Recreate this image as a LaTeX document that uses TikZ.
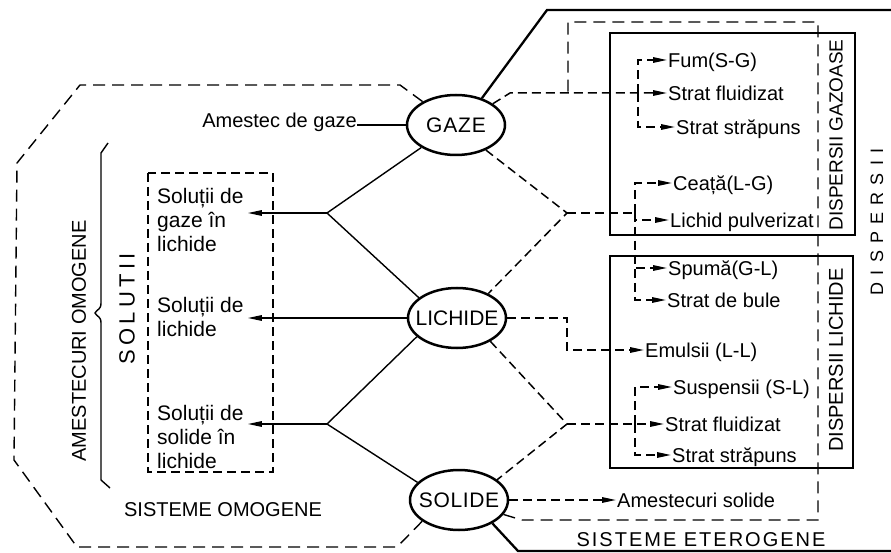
\documentclass[tikz,border=0pt]{standalone}
\usepackage{fontspec}
\setmainfont{Liberation Sans}
\usetikzlibrary{arrows.meta,shapes.geometric}

\begin{document}
\begin{tikzpicture}[x=1pt,y=-1pt,
  txt/.style={font=\fontsize{20}{24}\selectfont, inner sep=0pt},
  item/.style={txt, anchor=west, text height=14.4pt, text depth=0pt},
  soltxt/.style={font=\fontsize{21}{24}\selectfont, inner sep=0pt, anchor=north west, align=left},
  phase/.style={ellipse, draw, line width=2.5pt, inner sep=0pt,
    minimum width=98pt, minimum height=60pt, font=\fontsize{21}{24}\selectfont},
  solidln/.style={line width=1.4pt},
  heavy/.style={line width=2.3pt, line join=miter},
  dline/.style={line width=1.5pt, dash pattern=on 9pt off 5pt},
  region/.style={line width=1.4pt, dash pattern=on 12pt off 7pt},
  arr/.style={-{Triangle[length=14pt,width=5.5pt]}, shorten >=1pt},
]
\useasboundingbox (0,0) rectangle (891,553);

% the three phases
\node[phase] (gaze) at (456,125) {\makebox[0pt]{\addfontfeature{LetterSpace=4}GAZE}};
\node[phase] (lich) at (457,318) {\makebox[0pt]{LICHIDE}};
\node[phase] (sol)  at (459,500) {\makebox[0pt]{\addfontfeature{LetterSpace=3}SOLIDE}};

% ---------- homogeneous systems (left) ----------
\node[txt, anchor=base east] (amg) at (357,128) {Amestec de gaze};
\draw[solidln] (amg.east |- gaze.west) -- (gaze.west);

\draw[dline] (148,173) rectangle (273,472);
\node[soltxt] (s1) at (157,188) {Soluții de\\gaze în\\lichide};
\node[soltxt] (s2) at (157,297) {Soluții de\\lichide};
\node[soltxt] (s3) at (157,405) {Soluții de\\solide în\\lichide};

\coordinate (bt) at (327,213);
\coordinate (bb) at (327,424);
\draw[solidln] (gaze.213) -- (bt) -- (lich.152);
\draw[solidln] (lich.205) -- (bb) -- (sol.157);
\draw[solidln,arr] (bt) -- ([xshift=3pt]bt -| s1.east);
\draw[solidln,arr] (lich.west) -- ([xshift=3pt]lich.west -| s2.east);
\draw[solidln,arr] (bb) -- ([xshift=3pt]bb -| s3.east);

% bracket with brace
\draw[solidln] (108,143) -- (101,153) -- (101,303)
  .. controls (101,310) and (97,309) .. (95,313)
  .. controls (97,317) and (101,316) .. (101,323) -- (101,480) -- (110,488);

\node[txt, rotate=90] (amo) at (79,341) {AMESTECURI OMOGENE};
\node[txt, rotate=90, font=\fontsize{22}{24}\selectfont] (solu) at (127,309)
  {\addfontfeature{LetterSpace=20}SOLUTII};

% outline of the homogeneous systems
\draw[region] (gaze.145) -- (400,85) -- (80,85) -- (17,163) -- (14,460)
  -- (77,547) -- (397,547) -- (sol.210);
\node[txt] (som) at (223,510) {SISTEME OMOGENE};

% ---------- heterogeneous systems (right) ----------
\draw[heavy] (gaze.46) -- (547,10) -- (891,10);
\draw[heavy] (sol.-35) -- (518,551) -- (891,551);

\draw[heavy] (610,33) rectangle (855,235);
\draw[heavy] (610,256) rectangle (853,468);

\node[txt, rotate=90, font=\fontsize{19}{24}\selectfont] (dg) at (836,135) {DISPERSII GAZOASE};
\node[txt, rotate=90] (dl) at (836,360) {DISPERSII LICHIDE};
\node[txt, rotate=90, font=\fontsize{18}{24}\selectfont] (disp) at (877,222)
  {\addfontfeature{LetterSpace=40}DISPERSII};

\draw[region] (sol.-18) -- (522,520) -- (818,520) -- (818,22) -- (568,22) -- (568,93);
\node[txt] (set) at (701,540) {\addfontfeature{LetterSpace=10}SISTEME ETEROGENE};

% dispersed items
\node[item] (fum)   at (668,60)  {Fum(S-G)};
\node[item] (sf1)   at (668,93)  {Strat fluidizat};
\node[item] (ss1)   at (676,127) {Strat străpuns};
\node[item] (ceata) at (673,183) {Ceață(L-G)};
\node[item] (lp)    at (670,220) {Lichid pulverizat};
\node[item] (spuma) at (668,268) {Spumă(G-L)};
\node[item] (sdb)   at (667,300) {Strat de bule};
\node[item] (emul)  at (645,350) {Emulsii (L-L)};
\node[item] (susp)  at (673,387) {Suspensii (S-L)};
\node[item] (sf2)   at (665,424) {Strat fluidizat};
\node[item] (ss2)   at (672,455) {Strat străpuns};
\node[item] (ams)   at (617,500) {Amestecuri solide};

% gas dispersions: solids in gas
\coordinate (g1) at (638,93);
\draw[dline,arr] (gaze.30) -- (510,93) -- (sf1.west);
\draw[dline,arr] (g1) |- (fum.west);
\draw[dline,arr] (g1) |- (ss1.west);

% liquid in gas / gas in liquid
\coordinate (b2) at (567,213);
\coordinate (g2) at (635,213);
\draw[dline] (gaze.-40) -- (b2) -- (lich.38);
\draw[dline] (b2) -- (g2);
\draw[dline,arr] (g2) |- (ceata.west);
\draw[dline,arr] (g2) |- (lp.west);
\draw[dline,arr] (g2) |- (spuma.west);
\draw[dline,arr] (g2) |- (sdb.west);

% liquid in liquid
\coordinate (e1) at (567,318);
\draw[dline,arr] (lich.east) -- (e1) |- (emul.west);

% solids in liquid
\coordinate (b3) at (567,424);
\coordinate (g3) at (635,424);
\draw[dline] (lich.-35) -- (b3) -- (sol.28);
\draw[dline,arr] (b3) -- (sf2.west);
\draw[dline,arr] (g3) |- (susp.west);
\draw[dline,arr] (g3) |- (ss2.west);

% solid mixtures
\draw[dline,arr] (sol.east) -- (ams.west);

\end{tikzpicture}
\end{document}
